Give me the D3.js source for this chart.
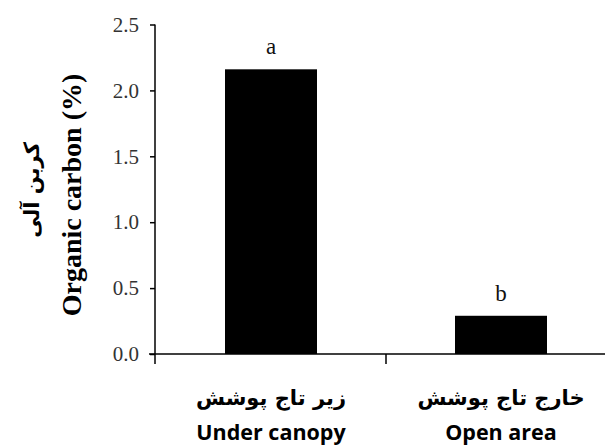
<!DOCTYPE html>
<html>
<head>
<meta charset="utf-8">
<script src="https://cdn.jsdelivr.net/npm/d3@7"></script>
<style>
  html, body { margin: 0; padding: 0; background: #fff; }
  svg { display: block; }
</style>
</head>
<body>
<svg id="chart" width="605" height="447"></svg>
<script>
const categoriesFa = ["زیر تاج پوشش", "خارج تاج پوشش"];
const categoriesEn = ["Under canopy", "Open area"];
const values = [2.16, 0.29];
const letters = ["a", "b"];
const yTicks = [0, 0.5, 1.0, 1.5, 2.0, 2.5];
const yTitleEn = "Organic carbon (%)";
const yTitleFa = "کربن آلی";

const svg = d3.select("#chart");
const W = 605, H = 447;
const x0 = 155, yBase = 354, yTop = 24.5;

const x = d3.scaleBand()
  .domain(d3.range(categoriesEn.length))
  .range([x0 + 1, x0 + 1 + 2 * 230])
  .paddingInner(0.6)
  .paddingOuter(0.3);

const y = d3.scaleLinear().domain([0, 2.5]).range([yBase, yTop]);

// bars
svg.append("g").selectAll("rect")
  .data(values)
  .join("rect")
  .attr("x", (d, i) => x(i))
  .attr("width", x.bandwidth())
  .attr("y", d => y(d))
  .attr("height", d => y(0) - y(d))
  .attr("fill", "#000");

// significance letters
svg.append("g").selectAll("text")
  .data(values)
  .join("text")
  .attr("x", (d, i) => x(i) + x.bandwidth() / 2)
  .attr("y", d => y(d) - 15)
  .attr("text-anchor", "middle")
  .attr("font-family", "Liberation Serif, Times New Roman, serif")
  .attr("font-size", 23)
  .attr("fill", "#111")
  .text((d, i) => letters[i]);

// y axis
const yAxis = d3.axisLeft(y)
  .tickValues(yTicks)
  .tickFormat(d3.format(".1f"))
  .tickSize(5)
  .tickPadding(11)
  .tickSizeOuter(0);
const gy = svg.append("g").attr("transform", `translate(${x0},0)`).call(yAxis);
gy.select(".domain").remove();
gy.selectAll(".tick line").attr("stroke", "#000").attr("stroke-width", 1.5);
gy.selectAll(".tick text")
  .attr("font-family", "Liberation Serif, Times New Roman, serif")
  .attr("font-size", 21)
  .attr("fill", "#333");
gy.append("line")
  .attr("x1", 0).attr("x2", 0)
  .attr("y1", y(2.5)).attr("y2", yBase + 10)
  .attr("stroke", "#000").attr("stroke-width", 1.5);

// x axis line
svg.append("line")
  .attr("x1", x0 - 6).attr("x2", W)
  .attr("y1", yBase).attr("y2", yBase)
  .attr("stroke", "#000").attr("stroke-width", 1.5);

// separator ticks at band boundaries
const boundaries = d3.range(1, categoriesEn.length).map(i => x.range()[0] + i * x.step());
svg.append("g").selectAll("line")
  .data(boundaries)
  .join("line")
  .attr("x1", d => d).attr("x2", d => d)
  .attr("y1", yBase).attr("y2", yBase + 10)
  .attr("stroke", "#000").attr("stroke-width", 1.5);

// category labels
const gl = svg.append("g");
gl.selectAll("text.fa")
  .data(categoriesFa)
  .join("text")
  .attr("class", "fa")
  .attr("x", (d, i) => x(i) + x.bandwidth() / 2)
  .attr("y", 405)
  .attr("text-anchor", "middle")
  .attr("direction", "rtl")
  .attr("font-family", "DejaVu Sans, Noto Sans, sans-serif")
  .attr("font-weight", "bold")
  .attr("font-size", 21)
  .attr("fill", "#000")
  .text(d => d);
gl.selectAll("text.en")
  .data(categoriesEn)
  .join("text")
  .attr("class", "en")
  .attr("x", (d, i) => x(i) + x.bandwidth() / 2)
  .attr("y", 440)
  .attr("text-anchor", "middle")
  .attr("font-family", "Open Sans, Liberation Sans, sans-serif")
  .attr("font-weight", "bold")
  .attr("font-size", 21.5)
  .attr("fill", "#000")
  .text(d => d);

// y titles
const yMid = 195;
svg.append("text")
  .attr("transform", `translate(81,${yMid}) rotate(-90)`)
  .attr("text-anchor", "middle")
  .attr("font-family", "Liberation Serif, Times New Roman, serif")
  .attr("font-weight", "bold")
  .attr("font-size", 28)
  .attr("fill", "#000")
  .text(yTitleEn);
svg.append("text")
  .attr("transform", `translate(39,${yMid - 5}) rotate(-90)`)
  .attr("text-anchor", "middle")
  .attr("direction", "rtl")
  .attr("font-family", "DejaVu Sans, Noto Sans, sans-serif")
  .attr("font-weight", "bold")
  .attr("font-size", 21)
  .attr("fill", "#000")
  .text(yTitleFa);
</script>
</body>
</html>
